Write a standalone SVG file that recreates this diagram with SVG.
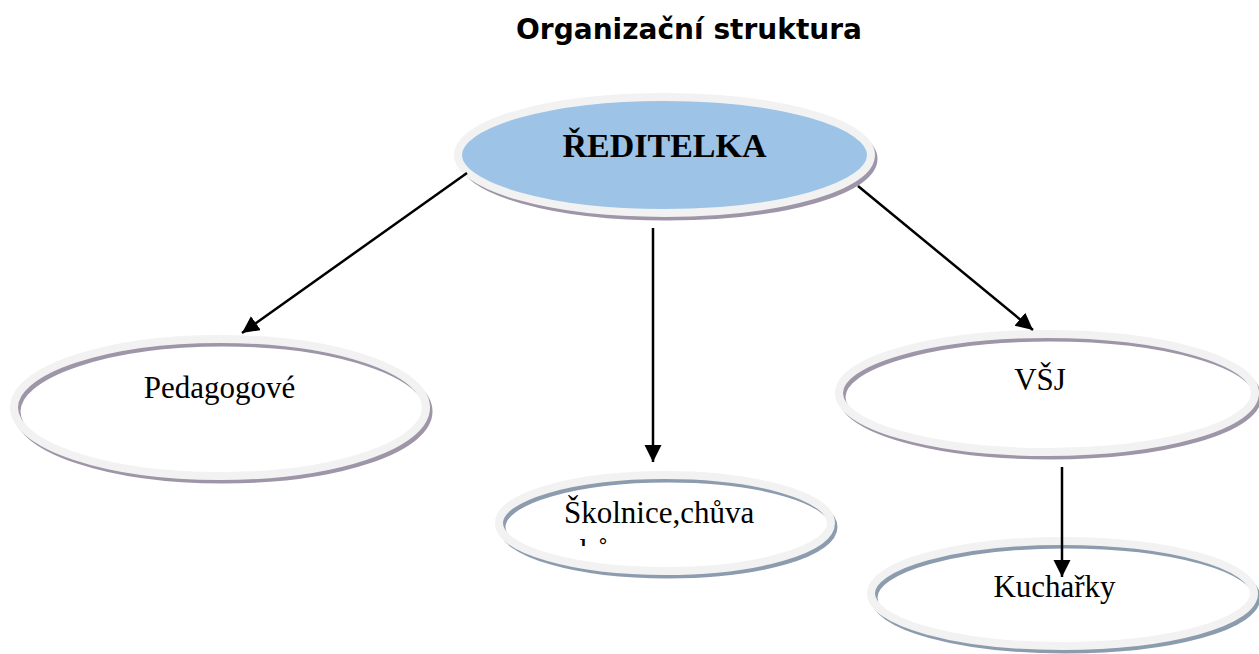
<svg xmlns="http://www.w3.org/2000/svg" width="1259" height="654" viewBox="0 0 1259 654">
<style>
.ring{fill:none;stroke:#f2f2f2;stroke-width:8}
.shp{fill:none;stroke:#9e96a8;stroke-width:7}
.shb{fill:none;stroke:#8c9cae;stroke-width:7}
.lbl{font-family:"Liberation Serif","Times New Roman",serif;font-size:31px;fill:#000}
.conn{stroke:#000;stroke-width:2.5;fill:none;marker-end:url(#ah)}
</style>
<defs>
<marker id="ah" markerUnits="userSpaceOnUse" markerWidth="18" markerHeight="18" refX="17" refY="8.5" orient="auto">
<path d="M0,0 L17,8.5 L0,17 Z" fill="#000"/>
</marker>
<clipPath id="clipSk"><rect x="500" y="470" width="340" height="76"/></clipPath>
</defs>
<rect width="1259" height="654" fill="#fff"/>
<text x="689" y="39" text-anchor="middle" font-family="'DejaVu Sans',Verdana,sans-serif" font-weight="bold" font-size="28" textLength="346" lengthAdjust="spacingAndGlyphs">Organizační struktura</text>

<g id="reditelka">
<ellipse class="shp" cx="668" cy="159" rx="206" ry="58"/>
<ellipse cx="664.5" cy="155" rx="206.5" ry="58" fill="#9dc3e6" stroke="#f2f2f2" stroke-width="8"/>
<text x="664.5" y="157" text-anchor="middle" font-family="'Liberation Serif','Times New Roman',serif" font-weight="bold" font-size="34">ŘEDITELKA</text>
</g>

<g id="pedagogove">
<ellipse class="shp" cx="223" cy="411.5" rx="206" ry="68.5"/>
<ellipse class="ring" cx="220" cy="407.5" rx="206" ry="68.5"/>
<text class="lbl" x="219.5" y="398" text-anchor="middle">Pedagogové</text>
</g>

<g id="skolnice">
<ellipse class="shb" cx="668" cy="527" rx="166" ry="48"/>
<ellipse class="ring" cx="665" cy="523" rx="166" ry="48"/>
<g clip-path="url(#clipSk)">
<text class="lbl" x="564" y="523">Školnice,chůva</text>
<text class="lbl" x="566" y="561">chůva</text>
</g>
</g>

<g id="vsj">
<ellipse class="shp" cx="1050" cy="397" rx="208" ry="59"/>
<ellipse class="ring" cx="1047" cy="393" rx="208" ry="59"/>
<text class="lbl" x="1040" y="390" text-anchor="middle">VŠJ</text>
</g>

<g id="kucharky">
<ellipse class="shb" cx="1065.5" cy="597.5" rx="191.5" ry="52.5"/>
<ellipse class="ring" cx="1062.5" cy="593.5" rx="191.5" ry="52.5"/>
<text class="lbl" x="1054.5" y="597" text-anchor="middle">Kuchařky</text>
</g>

<g id="connectors">
<line class="conn" x1="467" y1="173" x2="242" y2="333"/>
<line class="conn" x1="653" y1="228" x2="653" y2="462"/>
<line class="conn" x1="858" y1="186" x2="1033" y2="330"/>
<line class="conn" x1="1062" y1="467" x2="1062" y2="577"/>
</g>
</svg>
